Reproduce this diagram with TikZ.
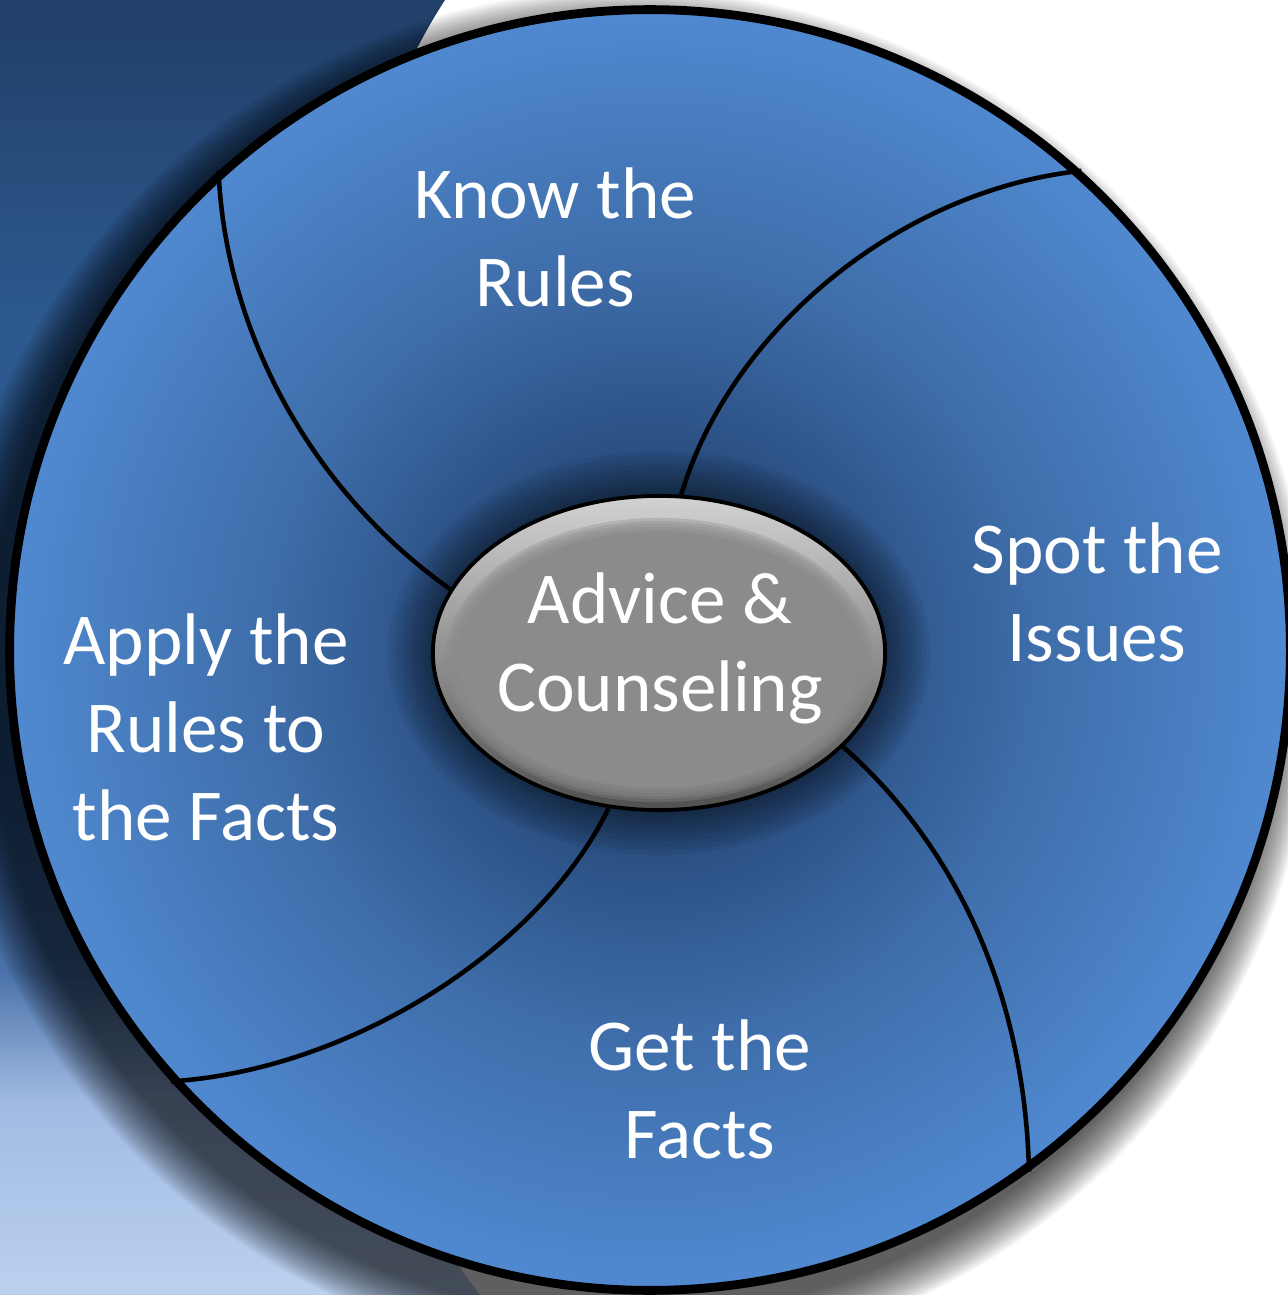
\documentclass[tikz,border=0pt]{standalone}
\usepackage{fontspec}
\setmainfont{Carlito}
\usetikzlibrary{shapes.geometric}

\definecolor{paneltop}{HTML}{213F69}
\definecolor{panelupper}{HTML}{2D598E}
\definecolor{panelmid}{HTML}{2F5C92}
\definecolor{panelsoft}{HTML}{4A72A8}
\definecolor{panelpale}{HTML}{A0BAE2}
\definecolor{panelbottom}{HTML}{BBD1EF}
\definecolor{wheelcore}{HTML}{23426B}
\definecolor{wheelinner}{HTML}{2B5083}
\definecolor{wheelmid}{HTML}{3E6DA9}
\definecolor{wheeledge}{HTML}{5089D0}
\definecolor{hubgray}{HTML}{8B8B8B}
\definecolor{hubtop}{HTML}{D2D2D2}
\definecolor{hubbottom}{HTML}{505050}

\pgfdeclareverticalshading{panelshade}{100bp}{color(0bp)=(panelbottom); color(25bp)=(panelbottom); color(32.5bp)=(panelpale); color(37.5bp)=(panelsoft); color(45bp)=(panelmid); color(62.5bp)=(panelupper); color(75bp)=(paneltop); color(100bp)=(paneltop)}
\pgfdeclareradialshading{wheelshade}{\pgfpoint{0bp}{0bp}}{color(0bp)=(wheelcore); color(8bp)=(wheelinner); color(15bp)=(wheelmid); color(25bp)=(wheeledge); color(50bp)=(wheeledge)}

\tikzset{
  wheel/.style={circle, draw=black, line width=2.5pt, minimum size=12.8cm, inner sep=0pt, shade, shading=wheelshade},
  hub/.style={ellipse, draw=black, line width=1.1pt, minimum width=4.52cm, minimum height=3.14cm, inner sep=0pt,
    top color=hubtop, bottom color=hubbottom,
    path picture={
      \foreach \k in {0,...,4}
        \fill[hubgray, opacity=0.35] ([yshift=-0.07cm]path picture bounding box.center) ellipse ({2.02cm+0.03cm*\k} and {1.30cm+0.03cm*\k});
      \fill[hubgray] ([yshift=-0.07cm]path picture bounding box.center) ellipse (2.0cm and 1.28cm);
    }},
  divider/.style={draw=black, line width=1.3pt},
  label/.style={text=white, align=center, inner sep=0pt, font=\fontsize{20.8}{25}\selectfont}
}

\begin{document}
\begin{tikzpicture}[x=0.01cm, y=-0.01cm]
        \useasboundingbox (0,0) rectangle (1287,1295);
        \fill[white] (0,0) rectangle (1287,1295);
        \shade[shading=panelshade]
          (0,0) -- (445,0) .. controls (250,300) and (250,1000) .. (480,1295) -- (0,1295) -- cycle;

        \foreach \r in {0,...,20}
          \fill[black, opacity=0.045] (628,676) circle ({6.42cm+0.022cm*\r});

        \node[wheel] (wheel) at(650,650){};

        \foreach \k in {1,...,10}
          \fill[black, opacity=0.05] (659,653) ellipse ({2.26cm+0.045cm*\k} and {1.57cm+0.045cm*\k});

        \node[hub] (hub) at(659,653){};
        \node[label] (advice) at(660,648){Advice \&\\Counseling};

        \draw[divider] (wheel.132.5) .. controls (225,330) and (310,490) .. (hub.163);
        \draw[divider] (wheel.48) .. controls (900,190) and (730,330) .. (hub.82);
        \draw[divider] (hub.333) .. controls (960,850) and (1025,1000) .. (wheel.306.5);
        \draw[divider] (hub.252) .. controls (540,950) and (350,1070) .. (wheel.222);

        \node[label] (know) at(555,237){Know the\\Rules};
        \node[label] (spot) at(1097,592){Spot the\\Issues};
        \node[label] (apply) at(206,727){Apply the\\Rules to\\the Facts};
        \node[label] (get) at(700,1089){Get the\\Facts};

      \end{tikzpicture}
\end{document}
